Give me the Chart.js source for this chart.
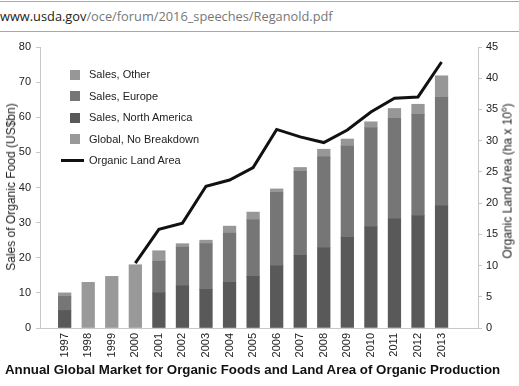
<!DOCTYPE html>
<html><head><meta charset="utf-8">
<script src="https://cdn.jsdelivr.net/npm/chart.js@4"></script>
<style>
html,body{margin:0;padding:0;background:#fff;width:519px;height:386px;overflow:hidden;font-family:"Liberation Sans",Arial,sans-serif;}
#url{position:absolute;left:0;top:1px;width:519px;height:29px;border-top:1px solid #a8a8a8;border-bottom:1px solid #a8a8a8;font-family:"Open Sans","Noto Sans",sans-serif;font-size:12.8px;line-height:29px;color:#777;white-space:nowrap;}
#url span{color:#222;}
#wrap{position:absolute;left:0;top:0;width:519px;height:386px;}
.ytitle{position:absolute;font-size:12px;color:#222;white-space:nowrap;transform:translate(-50%,-50%) rotate(-90deg);}
#legend{position:absolute;left:61px;top:64px;font-size:11px;color:#222;}
.li{position:relative;height:21.5px;line-height:21.5px;padding-left:28px;white-space:nowrap;}
.sw{position:absolute;left:9px;top:5.5px;width:10px;height:10px;}
.ln{position:absolute;left:0;top:9px;width:23px;height:3px;background:#111;}
#title{position:absolute;left:5px;top:362px;font-weight:bold;font-size:13.3px;color:#111;white-space:nowrap;}
</style></head>
<body>
<div id="url"><span>www.usda.gov</span>/oce/forum/2016_speeches/Reganold.pdf</div>
<div id="wrap"><canvas id="c" width="519" height="386"></canvas></div>
<div class="ytitle" style="left:11px;top:187px;">Sales of Organic Food (US$bn)</div>
<div class="ytitle" style="left:507px;top:181px;">Organic Land Area (ha x 10<sup style="font-size:8px">6</sup>)</div>
<div id="legend"></div>
<div id="title">Annual Global Market for Organic Foods and Land Area of Organic Production</div>
<script>
const years = [1997,1998,1999,2000,2001,2002,2003,2004,2005,2006,2007,2008,2009,2010,2011,2012,2013];
const salesNorthAmerica = [5,null,null,null,10,12,11,13,14.7,17.7,20.7,22.8,25.8,28.8,31.1,31.9,34.8];
const salesEurope = [4,null,null,null,9,11,13,14,16.1,20.9,23.9,25.9,26,28.2,28.6,28.9,30.9];
const salesOther = [1,null,null,null,3,1,1,2,2.2,1,1.1,2.2,2,1.7,2.8,2.9,6.1];
const globalNoBreakdown = [null,13,14.7,18,null,null,null,null,null,null,null,null,null,null,null,null,null];
const organicLandArea = [null,null,null,10.4,15.8,16.8,22.7,23.7,25.7,31.8,30.6,29.7,31.7,34.6,36.8,37.0,42.6];
const leftTicks = [0,10,20,30,40,50,60,70,80];
const rightTicks = [0,5,10,15,20,25,30,35,40,45];

const colors = {other:'#979797', europe:'#767676', na:'#595959', global:'#999999', line:'#111111'};
const toXY = arr => years.map((yr,i)=>({x:yr, y:arr[i]}));

const datasets = [
  {type:'bar', label:'Sales, North America', data:toXY(salesNorthAmerica), backgroundColor:colors.na, yAxisID:'y', order:1, barThickness:12.6},
  {type:'bar', label:'Sales, Europe', data:toXY(salesEurope), backgroundColor:colors.europe, yAxisID:'y', order:1, barThickness:12.6},
  {type:'bar', label:'Sales, Other', data:toXY(salesOther), backgroundColor:colors.other, yAxisID:'y', order:1, barThickness:12.6},
  {type:'bar', label:'Global, No Breakdown', data:toXY(globalNoBreakdown), backgroundColor:colors.global, yAxisID:'y', order:1, barThickness:12.6},
  {type:'line', label:'Organic Land Area', data:toXY(organicLandArea), borderColor:colors.line, borderWidth:3, pointRadius:0, yAxisID:'y1', order:0, tension:0, spanGaps:false}
];

const legendItems = [
  ['Sales, Other', colors.other, false],
  ['Sales, Europe', colors.europe, false],
  ['Sales, North America', colors.na, false],
  ['Global, No Breakdown', colors.global, false],
  ['Organic Land Area', colors.line, true]
];
const lg = document.getElementById('legend');
legendItems.forEach(([t,c,isLine])=>{
  const d = document.createElement('div'); d.className='li';
  const m = document.createElement('div'); m.className = isLine ? 'ln' : 'sw'; m.style.background = c;
  d.appendChild(m); d.appendChild(document.createTextNode(t)); lg.appendChild(d);
});

const font = {family:'"Liberation Sans", Arial, sans-serif', size:11};
new Chart(document.getElementById('c'), {
  data:{datasets},
  options:{
    responsive:false, animation:false,
    layout:{padding:{top:47,left:0,right:0,bottom:0}},
    plugins:{legend:{display:false}, tooltip:{enabled:false}, title:{display:false}},
    scales:{
      x:{type:'linear', min:1996.5, max:2014, stacked:true,
        grid:{display:false}, border:{display:true,color:'#c8c8c8',width:1},
        afterBuildTicks:s=>{s.ticks = years.map(v=>({value:v}));},
        afterFit:s=>{s.height = 58;},
        ticks:{color:'#222', font:{...font, size:11}, minRotation:90, maxRotation:90, autoSkip:false, padding:-3, callback:v=>String(v)}},
      y:{type:'linear', position:'left', min:0, max:80, stacked:true,
        grid:{display:true, drawOnChartArea:false, drawTicks:true, tickLength:4, color:'#c8c8c8'},
        border:{display:true,color:'#c8c8c8'},
        afterBuildTicks:s=>{s.ticks = leftTicks.map(v=>({value:v}));},
        afterFit:s=>{s.width = 40;},
        ticks:{color:'#222', font, padding:5}},
      y1:{type:'linear', position:'right', min:0, max:45,
        grid:{display:true, drawOnChartArea:false, drawTicks:true, tickLength:4, color:'#c8c8c8'},
        border:{display:true,color:'#c8c8c8'},
        afterBuildTicks:s=>{s.ticks = rightTicks.map(v=>({value:v}));},
        afterFit:s=>{s.width = 41;},
        ticks:{color:'#222', font, padding:4}}
    }
  }
});
</script>
</body></html>
